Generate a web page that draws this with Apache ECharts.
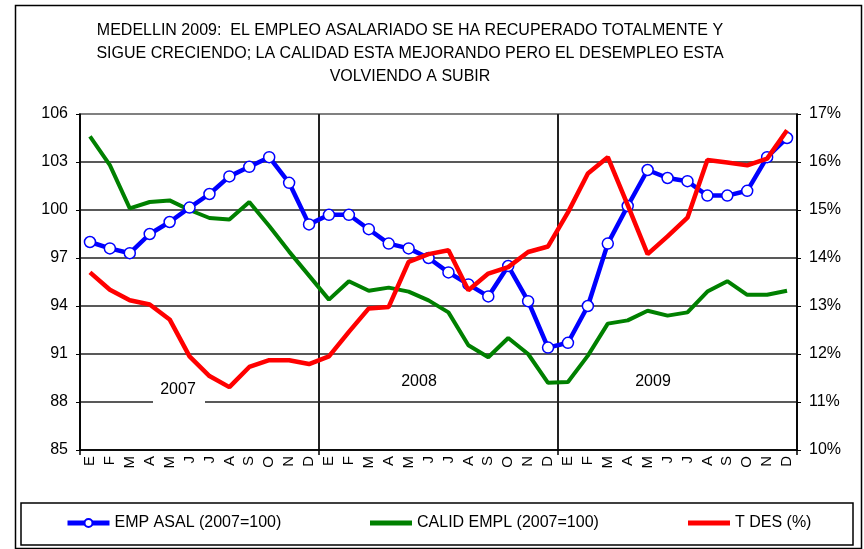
<!DOCTYPE html>
<html>
<head>
<meta charset="utf-8">
<script src="https://cdn.jsdelivr.net/npm/echarts@6/dist/echarts.min.js"></script>
<style>
  html, body { margin: 0; padding: 0; background: #fff; }
  #chart { width: 864px; height: 549px; }
</style>
</head>
<body>
<div id="chart"></div>
<script>
// meses y años
const months = ['E', 'F', 'M', 'A', 'M', 'J', 'J', 'A', 'S', 'O', 'N', 'D'];
const years = ['2007', '2008', '2009'];
const categories = [];
years.forEach(y => months.forEach((m, i) => categories.push(y + '-' + (i + 1))));

// series
const empAsal = [98.0, 97.6, 97.3, 98.5, 99.25, 100.15, 101.0, 102.1, 102.7, 103.3, 101.7, 99.1,
  99.7, 99.7, 98.8, 97.9, 97.6, 97.0, 96.1, 95.35, 94.6, 96.5, 94.3, 91.4,
  91.7, 94.0, 97.9, 100.25, 102.5, 102.0, 101.8, 100.9, 100.9, 101.2, 103.3, 104.5];
const calidEmpl = [104.6, 102.8, 100.1, 100.5, 100.6, 100.0, 99.5, 99.4, 100.5, 99.0, 97.4, 95.9,
  94.4, 95.55, 94.95, 95.15, 94.9, 94.35, 93.6, 91.55, 90.8, 92.0, 91.0, 89.2,
  89.25, 90.9, 92.9, 93.1, 93.7, 93.4, 93.6, 94.9, 95.55, 94.7, 94.7, 94.95];
const tDes = [13.7, 13.34, 13.12, 13.03, 12.72, 11.95, 11.54, 11.31, 11.73, 11.87, 11.87, 11.79,
  11.95, 12.46, 12.95, 12.98, 13.92, 14.08, 14.16, 13.33, 13.675, 13.81, 14.125, 14.24,
  14.95, 15.76, 16.1, 15.1, 14.08, 14.45, 14.84, 16.04, 15.99, 15.93, 16.07, 16.66];

const names = ['EMP ASAL (2007=100)', 'CALID EMPL (2007=100)', 'T DES (%)'];
const titleText = 'MEDELLIN 2009:  EL EMPLEO ASALARIADO SE HA RECUPERADO TOTALMENTE Y\n' +
  'SIGUE CRECIENDO; LA CALIDAD ESTA MEJORANDO PERO EL DESEMPLEO ESTA\n' +
  'VOLVIENDO A SUBIR';

const font = "'Liberation Sans', Arial, sans-serif";
const yearTick = i => i % 12 === 0;

const chart = echarts.init(document.getElementById('chart'));

const legendBase = {
  top: 515,
  padding: 0,
  itemWidth: 42,
  itemHeight: 14,
  textStyle: { fontSize: 16, color: '#000', fontFamily: font }
};
// leyendas de línea sin marcador
const legendLine = { ...legendBase, icon: 'rect', itemHeight: 5 };

chart.setOption({
  animation: false,
  textStyle: { fontFamily: font },
  title: {
    text: titleText,
    left: 410,
    top: 19,
    padding: 0,
    textAlign: 'center',
    textStyle: { fontSize: 16, fontWeight: 'normal', color: '#000', lineHeight: 23, fontFamily: font }
  },
  grid: {
    left: 80, right: 67, top: 114, bottom: 99,
    show: true, borderColor: '#808080', borderWidth: 2
  },
  legend: [
    { ...legendBase, left: 65, itemHeight: 10, lineStyle: { width: 5 }, data: [names[0]] },
    { ...legendLine, left: 370, data: [names[1]] },
    { ...legendLine, left: 688, data: [names[2]] }
  ],
  xAxis: {
    type: 'category',
    data: categories,
    boundaryGap: true,
    axisLine: { lineStyle: { color: '#000', width: 1.5 } },
    axisTick: { show: true, interval: yearTick, length: 5, lineStyle: { color: '#000', width: 1.5 } },
    axisLabel: {
      interval: 0, rotate: 90, margin: 6, fontSize: 15, color: '#000',
      formatter: (v, i) => months[i % 12]
    },
    splitLine: { show: true, interval: yearTick, lineStyle: { color: '#222', width: 2 } }
  },
  yAxis: [
    {
      type: 'value', position: 'left', min: 85, max: 106, interval: 3,
      axisLine: { show: true, lineStyle: { color: '#000', width: 1.5 } },
      axisTick: { show: true, length: 4, lineStyle: { color: '#000' } },
      axisLabel: { fontSize: 16, color: '#000', margin: 12 },
      splitLine: { show: true, showMaxLine: false, lineStyle: { color: '#222', width: 1.5 } }
    },
    {
      type: 'value', position: 'right', min: 10, max: 17, interval: 1,
      axisLine: { show: true, lineStyle: { color: '#000', width: 1.5 } },
      axisTick: { show: true, length: 4, lineStyle: { color: '#000' } },
      axisLabel: { fontSize: 16, color: '#000', margin: 12, formatter: '{value}%' },
      splitLine: { show: false }
    }
  ],
  series: [
    {
      name: names[1], type: 'line', yAxisIndex: 0, data: calidEmpl,
      symbol: 'none', z: 2,
      lineStyle: { color: '#008000', width: 4 },
      itemStyle: { color: '#008000' }
    },
    {
      name: names[0], type: 'line', yAxisIndex: 0, data: empAsal,
      symbol: 'circle', symbolSize: 11, showAllSymbol: true, z: 3,
      lineStyle: { color: '#0000ff', width: 4.5 },
      itemStyle: { color: '#fff', borderColor: '#0000ff', borderWidth: 1.5 }
    },
    {
      name: names[2], type: 'line', yAxisIndex: 1, data: tDes,
      symbol: 'none', z: 4,
      lineStyle: { color: '#ff0000', width: 4.5 },
      itemStyle: { color: '#ff0000' }
    }
  ],
  graphic: [
    // borde exterior
    { type: 'rect', shape: { x: 15.5, y: 5.5, width: 846, height: 543 },
      style: { fill: 'none', stroke: '#000', lineWidth: 1.5 }, silent: true, z: -10 },
    // caja de la leyenda
    { type: 'rect', shape: { x: 21, y: 503, width: 832, height: 42 },
      style: { fill: 'none', stroke: '#000', lineWidth: 1.5 }, silent: true },
    // etiquetas de año
    { type: 'rect', shape: { x: 153, y: 381, width: 52, height: 26 },
      style: { fill: '#fff' }, z: 50, silent: true },
    { type: 'text', x: 178, y: 390, z: 51, silent: true,
      style: { text: years[0], fontSize: 16, fill: '#000', align: 'center', verticalAlign: 'middle', fontFamily: font } },
    { type: 'text', x: 419, y: 382, z: 51, silent: true,
      style: { text: years[1], fontSize: 16, fill: '#000', align: 'center', verticalAlign: 'middle', fontFamily: font } },
    { type: 'text', x: 653, y: 382, z: 51, silent: true,
      style: { text: years[2], fontSize: 16, fill: '#000', align: 'center', verticalAlign: 'middle', fontFamily: font } }
  ]
});

window.addEventListener('resize', () => chart.resize());
</script>
</body>
</html>
